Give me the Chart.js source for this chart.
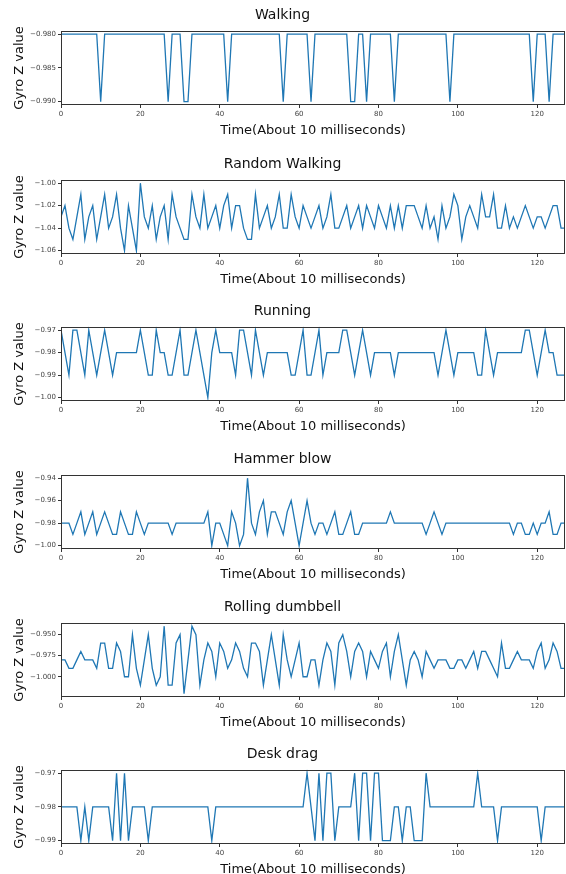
<!DOCTYPE html>
<html>
<head>
    <meta charset="utf-8">
    <title>Gyro Z value</title>
    <script src="https://cdn.jsdelivr.net/npm/chart.js@4.4.1/dist/chart.umd.min.js"></script>
    <style>
        body { margin: 0; background: #fff; }
        #wrap { position: relative; width: 566px; height: 874px; overflow: hidden; }
    </style>
</head>
<body>
<div id="wrap"></div>

<script>
    // values, one per time step (0..127)
    const walking = [
        -0.98,-0.98,-0.98,-0.98,-0.98,-0.98,-0.98,-0.98,-0.98,-0.98,-0.99,-0.98,-0.98,-0.98,-0.98,-0.98,
        -0.98,-0.98,-0.98,-0.98,-0.98,-0.98,-0.98,-0.98,-0.98,-0.98,-0.98,-0.99,-0.98,-0.98,-0.98,-0.99,
        -0.99,-0.98,-0.98,-0.98,-0.98,-0.98,-0.98,-0.98,-0.98,-0.98,-0.99,-0.98,-0.98,-0.98,-0.98,-0.98,
        -0.98,-0.98,-0.98,-0.98,-0.98,-0.98,-0.98,-0.98,-0.99,-0.98,-0.98,-0.98,-0.98,-0.98,-0.98,-0.99,
        -0.98,-0.98,-0.98,-0.98,-0.98,-0.98,-0.98,-0.98,-0.98,-0.99,-0.99,-0.98,-0.98,-0.99,-0.98,-0.98,
        -0.98,-0.98,-0.98,-0.98,-0.99,-0.98,-0.98,-0.98,-0.98,-0.98,-0.98,-0.98,-0.98,-0.98,-0.98,-0.98,
        -0.98,-0.98,-0.99,-0.98,-0.98,-0.98,-0.98,-0.98,-0.98,-0.98,-0.98,-0.98,-0.98,-0.98,-0.98,-0.98,
        -0.98,-0.98,-0.98,-0.98,-0.98,-0.98,-0.98,-0.99,-0.98,-0.98,-0.98,-0.99,-0.98,-0.98,-0.98,-0.98
    ];
    const randomWalking = [
        -1.03,-1.02,-1.04,-1.05,-1.03,-1.01,-1.05,-1.03,-1.02,-1.05,-1.03,-1.01,-1.04,-1.03,-1.01,-1.04,
        -1.06,-1.02,-1.04,-1.06,-1.00,-1.03,-1.04,-1.02,-1.05,-1.03,-1.02,-1.05,-1.01,-1.03,-1.04,-1.05,
        -1.05,-1.01,-1.03,-1.04,-1.01,-1.04,-1.03,-1.02,-1.04,-1.02,-1.01,-1.04,-1.02,-1.02,-1.04,-1.05,
        -1.05,-1.01,-1.04,-1.03,-1.02,-1.04,-1.03,-1.01,-1.04,-1.04,-1.01,-1.03,-1.04,-1.02,-1.03,-1.04,
        -1.03,-1.02,-1.04,-1.03,-1.01,-1.04,-1.04,-1.03,-1.02,-1.04,-1.03,-1.02,-1.04,-1.02,-1.03,-1.04,
        -1.02,-1.03,-1.04,-1.02,-1.04,-1.02,-1.04,-1.02,-1.02,-1.02,-1.03,-1.04,-1.02,-1.04,-1.03,-1.05,
        -1.02,-1.04,-1.03,-1.01,-1.02,-1.05,-1.03,-1.02,-1.03,-1.04,-1.01,-1.03,-1.03,-1.01,-1.04,-1.04,
        -1.02,-1.04,-1.03,-1.04,-1.03,-1.02,-1.03,-1.04,-1.03,-1.03,-1.04,-1.03,-1.02,-1.02,-1.04,-1.04
    ];
    const running = [
        -0.97,-0.98,-0.99,-0.97,-0.97,-0.98,-0.99,-0.97,-0.98,-0.99,-0.98,-0.97,-0.98,-0.99,-0.98,-0.98,
        -0.98,-0.98,-0.98,-0.98,-0.97,-0.98,-0.99,-0.99,-0.97,-0.98,-0.98,-0.99,-0.99,-0.98,-0.97,-0.99,
        -0.99,-0.98,-0.97,-0.98,-0.99,-1.00,-0.98,-0.97,-0.98,-0.98,-0.98,-0.98,-0.99,-0.97,-0.97,-0.98,
        -0.99,-0.97,-0.98,-0.99,-0.98,-0.98,-0.98,-0.98,-0.98,-0.98,-0.99,-0.99,-0.98,-0.97,-0.99,-0.99,
        -0.98,-0.97,-0.99,-0.98,-0.98,-0.98,-0.98,-0.97,-0.97,-0.98,-0.99,-0.98,-0.97,-0.98,-0.99,-0.98,
        -0.98,-0.98,-0.98,-0.98,-0.99,-0.98,-0.98,-0.98,-0.98,-0.98,-0.98,-0.98,-0.98,-0.98,-0.98,-0.99,
        -0.98,-0.97,-0.98,-0.99,-0.98,-0.98,-0.98,-0.98,-0.98,-0.99,-0.99,-0.97,-0.98,-0.99,-0.98,-0.98,
        -0.98,-0.98,-0.98,-0.98,-0.98,-0.97,-0.97,-0.98,-0.99,-0.98,-0.97,-0.98,-0.98,-0.99,-0.99,-0.99
    ];
    const hammerBlow = [
        -0.98,-0.98,-0.98,-0.99,-0.98,-0.97,-0.99,-0.98,-0.97,-0.99,-0.98,-0.97,-0.98,-0.99,-0.99,-0.97,
        -0.98,-0.99,-0.99,-0.97,-0.98,-0.99,-0.98,-0.98,-0.98,-0.98,-0.98,-0.98,-0.99,-0.98,-0.98,-0.98,
        -0.98,-0.98,-0.98,-0.98,-0.98,-0.97,-1.00,-0.98,-0.98,-0.99,-1.00,-0.97,-0.98,-1.00,-0.99,-0.94,
        -0.98,-0.99,-0.97,-0.96,-0.99,-0.97,-0.97,-0.98,-0.99,-0.97,-0.96,-0.98,-1.00,-0.98,-0.96,-0.98,
        -0.99,-0.98,-0.98,-0.99,-0.98,-0.97,-0.99,-0.99,-0.98,-0.97,-0.99,-0.99,-0.98,-0.98,-0.98,-0.98,
        -0.98,-0.98,-0.98,-0.97,-0.98,-0.98,-0.98,-0.98,-0.98,-0.98,-0.98,-0.98,-0.99,-0.98,-0.97,-0.98,
        -0.99,-0.98,-0.98,-0.98,-0.98,-0.98,-0.98,-0.98,-0.98,-0.98,-0.98,-0.98,-0.98,-0.98,-0.98,-0.98,
        -0.98,-0.98,-0.99,-0.98,-0.98,-0.99,-0.99,-0.98,-0.99,-0.98,-0.98,-0.97,-0.99,-0.99,-0.98,-0.98
    ];
    const rollingDumbbell = [
        -0.98,-0.98,-0.99,-0.99,-0.98,-0.97,-0.98,-0.98,-0.98,-0.99,-0.96,-0.96,-0.99,-0.99,-0.96,-0.97,
        -1.00,-1.00,-0.95,-0.99,-1.01,-0.98,-0.95,-0.99,-1.01,-1.00,-0.94,-1.01,-1.01,-0.96,-0.95,-1.02,
        -0.98,-0.94,-0.95,-1.01,-0.98,-0.96,-0.97,-1.00,-0.96,-0.97,-0.99,-0.98,-0.96,-0.97,-0.99,-1.00,
        -0.96,-0.96,-0.97,-1.01,-0.98,-0.95,-0.98,-1.01,-0.95,-0.98,-1.00,-0.98,-0.96,-1.00,-1.00,-0.98,
        -0.98,-1.01,-0.98,-0.96,-0.97,-1.01,-0.96,-0.95,-0.97,-1.00,-0.97,-0.96,-0.97,-1.00,-0.97,-0.98,
        -0.99,-0.97,-0.96,-1.00,-0.97,-0.95,-0.98,-1.01,-0.98,-0.97,-0.98,-1.00,-0.97,-0.98,-0.99,-0.98,
        -0.98,-0.98,-0.99,-0.99,-0.98,-0.98,-0.99,-0.98,-0.97,-0.99,-0.97,-0.97,-0.98,-0.99,-1.00,-0.96,
        -0.99,-0.99,-0.98,-0.97,-0.98,-0.98,-0.98,-0.99,-0.97,-0.96,-0.99,-0.98,-0.96,-0.97,-0.99,-0.99
    ];
    const deskDrag = [
        -0.98,-0.98,-0.98,-0.98,-0.98,-0.99,-0.98,-0.99,-0.98,-0.98,-0.98,-0.98,-0.98,-0.99,-0.97,-0.99,
        -0.97,-0.99,-0.98,-0.98,-0.98,-0.98,-0.99,-0.98,-0.98,-0.98,-0.98,-0.98,-0.98,-0.98,-0.98,-0.98,
        -0.98,-0.98,-0.98,-0.98,-0.98,-0.98,-0.99,-0.98,-0.98,-0.98,-0.98,-0.98,-0.98,-0.98,-0.98,-0.98,
        -0.98,-0.98,-0.98,-0.98,-0.98,-0.98,-0.98,-0.98,-0.98,-0.98,-0.98,-0.98,-0.98,-0.98,-0.97,-0.98,
        -0.99,-0.97,-0.99,-0.97,-0.97,-0.99,-0.98,-0.98,-0.98,-0.98,-0.97,-0.99,-0.97,-0.97,-0.99,-0.97,
        -0.97,-0.99,-0.99,-0.99,-0.98,-0.98,-0.99,-0.98,-0.98,-0.99,-0.99,-0.99,-0.97,-0.98,-0.98,-0.98,
        -0.98,-0.98,-0.98,-0.98,-0.98,-0.98,-0.98,-0.98,-0.98,-0.97,-0.98,-0.98,-0.98,-0.98,-0.99,-0.98,
        -0.98,-0.98,-0.98,-0.98,-0.98,-0.98,-0.98,-0.98,-0.98,-0.99,-0.98,-0.98,-0.98,-0.98,-0.98,-0.98
    ];

    const titles = ['Walking', 'Random Walking', 'Running', 'Hammer blow', 'Rolling dumbbell', 'Desk drag'];
    const xTicks = [0, 20, 40, 60, 80, 100, 120];
    const yTicksWalking = [-0.98, -0.985, -0.99];
    const yTicksRandom = [-1.00, -1.02, -1.04, -1.06];
    const yTicksRunning = [-0.97, -0.98, -0.99, -1.00];
    const yTicksHammer = [-0.94, -0.96, -0.98, -1.00];
    const yTicksRolling = [-0.950, -0.975, -1.000];
    const yTicksDesk = [-0.97, -0.98, -0.99];

    // layout of the six panels (top of each plot box in page px)
    const plotTop = [31, 180, 327, 475, 623, 770];
    const plotH = 74;
    const headH = 31;
    const footH = 36;

    Chart.defaults.font.family = "'DejaVu Sans', sans-serif";

    // matplotlib style box around the plot area
    const frame = {
        id: 'frame',
        afterDraw(chart) {
            let a = chart.chartArea, c = chart.ctx;
            c.save();
            c.strokeStyle = '#333';
            c.lineWidth = 1;
            c.strokeRect(Math.round(a.left) + 0.5, Math.round(a.top) + 0.5,
                Math.round(a.right - a.left) - 1, Math.round(a.bottom - a.top) - 1);
            c.restore();
        }
    };

    function drawPanel(i, values, yTicks, digits) {
        let canvas = document.createElement('canvas');
        canvas.width = 566;
        canvas.height = headH + plotH + footH;
        canvas.style.position = 'absolute';
        canvas.style.left = '0px';
        canvas.style.top = (plotTop[i] - headH) + 'px';
        document.getElementById('wrap').appendChild(canvas);

        let lo = Math.min.apply(null, values), hi = Math.max.apply(null, values);
        let pad = (hi - lo) * 0.05;

        new Chart(canvas, {
            type: 'line',
            data: {
                datasets: [{
                    data: values.map(function (v, k) { return {x: k, y: v}; }),
                    borderColor: '#1f77b4',
                    borderWidth: 1.3,
                    pointRadius: 0,
                    tension: 0,
                    fill: false
                }]
            },
            options: {
                responsive: false,
                animation: false,
                layout: {padding: {left: 0, right: 1, top: 0, bottom: 0}},
                plugins: {
                    legend: {display: false},
                    tooltip: {enabled: false},
                    title: {
                        display: true, text: titles[i], color: '#111',
                        font: {size: 14, weight: 'normal'},
                        padding: {top: 7, bottom: 7}
                    }
                },
                scales: {
                    x: {
                        type: 'linear', min: 0, max: 127,
                        border: {display: false},
                        grid: {drawOnChartArea: false, drawTicks: true, tickLength: 3, color: '#333'},
                        ticks: {font: {size: 7}, color: '#444', padding: 2, maxRotation: 0},
                        title: {
                            display: true, text: 'Time(About 10 milliseconds)', color: '#111',
                            font: {size: 13}, padding: {top: 0, bottom: 3}
                        },
                        afterBuildTicks: function (s) {
                            s.ticks = xTicks.map(function (v) { return {value: v}; });
                        },
                        afterFit: function (s) {
                            s.height = footH;
                            s.paddingLeft = 0;
                            s.paddingRight = 0;
                        }
                    },
                    y: {
                        min: lo - pad, max: hi + pad,
                        border: {display: false},
                        grid: {drawOnChartArea: false, drawTicks: true, tickLength: 3, color: '#333'},
                        ticks: {
                            font: {size: 7}, color: '#444', padding: 2,
                            callback: function (v) { return v.toFixed(digits).replace('-', '\u2212'); }
                        },
                        title: {
                            display: true, text: 'Gyro Z value', color: '#111',
                            font: {size: 13}, padding: {top: 12, bottom: 0}
                        },
                        afterBuildTicks: function (s) {
                            s.ticks = yTicks.map(function (v) { return {value: v}; });
                        },
                        afterFit: function (s) {
                            s.width = 61;
                            s.paddingTop = 0;
                            s.paddingBottom = 0;
                        }
                    }
                }
            },
            plugins: [frame]
        });
    }

    drawPanel(0, walking, yTicksWalking, 3);
    drawPanel(1, randomWalking, yTicksRandom, 2);
    drawPanel(2, running, yTicksRunning, 2);
    drawPanel(3, hammerBlow, yTicksHammer, 2);
    drawPanel(4, rollingDumbbell, yTicksRolling, 3);
    drawPanel(5, deskDrag, yTicksDesk, 2);
</script>
</body>
</html>
